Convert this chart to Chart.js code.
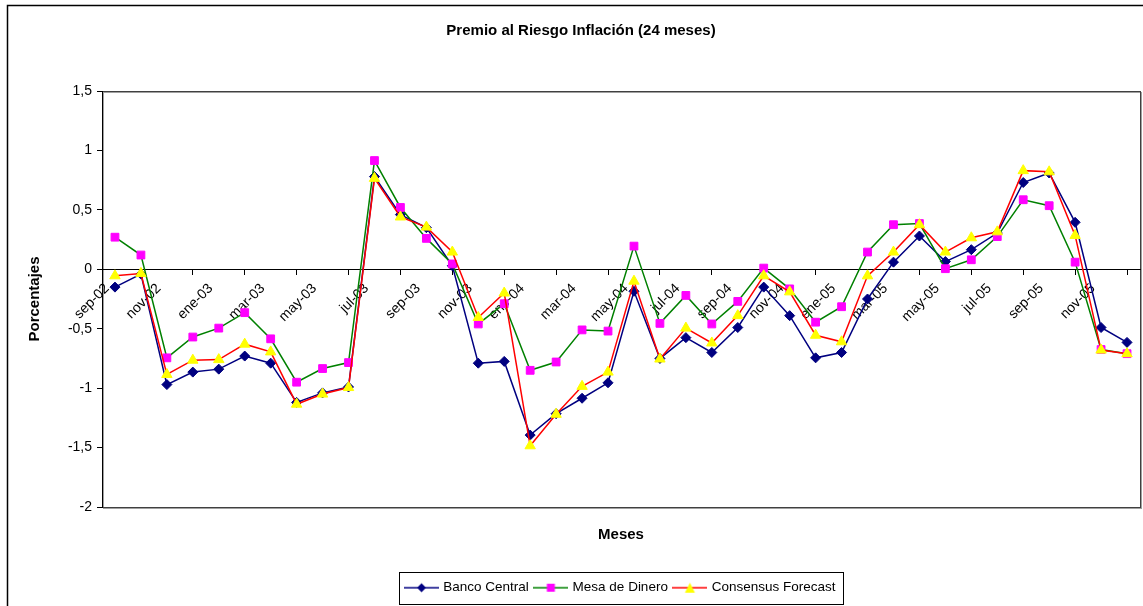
<!DOCTYPE html>
<html lang="es">
<head>
  <meta charset="UTF-8">
  <title>Premio al Riesgo Inflación (24 meses)</title>
  <script src="https://cdn.jsdelivr.net/npm/chart.js"></script>
  <style>
    html, body { margin: 0; padding: 0; background: #fff; }
    #premioChart { display: block; }
  </style>
</head>
<body>
  <canvas id="premioChart" width="1143" height="606"></canvas>

  <script>
    // meses (sep-02 a dic-05), se rotula uno de cada dos
    const meses = [
      'sep-02', 'oct-02', 'nov-02', 'dic-02',
      'ene-03', 'feb-03', 'mar-03', 'abr-03', 'may-03', 'jun-03',
      'jul-03', 'ago-03', 'sep-03', 'oct-03', 'nov-03', 'dic-03',
      'ene-04', 'feb-04', 'mar-04', 'abr-04', 'may-04', 'jun-04',
      'jul-04', 'ago-04', 'sep-04', 'oct-04', 'nov-04', 'dic-04',
      'ene-05', 'feb-05', 'mar-05', 'abr-05', 'may-05', 'jun-05',
      'jul-05', 'ago-05', 'sep-05', 'oct-05', 'nov-05', 'dic-05'
    ];

    const bancoCentral = [
      -0.15, -0.04, -0.97, -0.865, -0.84, -0.73, -0.79, -1.12, -1.04, -0.99,
      0.78, 0.46, 0.35, 0.03, -0.79, -0.775, -1.395, -1.215, -1.085, -0.955,
      -0.185, -0.75, -0.575, -0.70, -0.49, -0.15, -0.39, -0.745, -0.70, -0.25,
      0.06, 0.28, 0.065, 0.165, 0.305, 0.73, 0.81, 0.395, -0.49, -0.615
    ];

    const mesaDeDinero = [
      0.27, 0.12, -0.745, -0.57, -0.495, -0.365, -0.585, -0.95, -0.835, -0.785,
      0.915, 0.52, 0.26, 0.045, -0.46, -0.29, -0.85, -0.78, -0.51, -0.52,
      0.195, -0.455, -0.22, -0.46, -0.27, 0.01, -0.165, -0.445, -0.315, 0.145,
      0.375, 0.385, 0.005, 0.08, 0.275, 0.585, 0.535, 0.06, -0.675, -0.71
    ];

    const consensusForecast = [
      -0.055, -0.035, -0.885, -0.765, -0.76, -0.63, -0.695, -1.135, -1.05, -0.995,
      0.765, 0.44, 0.355, 0.145, -0.405, -0.2, -1.485, -1.22, -0.985, -0.865,
      -0.1, -0.755, -0.495, -0.62, -0.39, -0.055, -0.19, -0.555, -0.61, -0.055,
      0.145, 0.375, 0.145, 0.265, 0.315, 0.83, 0.82, 0.285, -0.68, -0.71
    ];

    const yTicks = [-2, -1.5, -1, -0.5, 0, 0.5, 1, 1.5];

    const fuente = "'Liberation Sans', Arial, sans-serif";
    Chart.defaults.font.family = fuente;
    Chart.defaults.color = '#000';

    // icono de leyenda: linea con marcador al medio
    function iconoLeyenda(colorLinea, colorMarca, forma) {
      const c = document.createElement('canvas');
      c.width = 35; c.height = 14;
      const g = c.getContext('2d');
      g.strokeStyle = colorLinea;
      g.lineWidth = 1.5;
      g.beginPath(); g.moveTo(0, 7); g.lineTo(35, 7); g.stroke();
      g.fillStyle = colorMarca;
      g.beginPath();
      if (forma === 'diamante') {
        g.moveTo(17.5, 2.5); g.lineTo(22, 7); g.lineTo(17.5, 11.5); g.lineTo(13, 7);
      } else if (forma === 'cuadrado') {
        g.rect(13.5, 3, 8, 8);
      } else {
        g.moveTo(17.5, 2); g.lineTo(22.5, 12); g.lineTo(12.5, 12);
      }
      g.closePath(); g.fill();
      return c;
    }

    const iconos = [
      iconoLeyenda('#000080', '#000080', 'diamante'),
      iconoLeyenda('#008000', '#FF00FF', 'cuadrado'),
      iconoLeyenda('#FF0000', '#FFFF00', 'triangulo')
    ];

    // marco exterior, borde del area de trazado y caja de la leyenda
    const marcos = {
      id: 'marcos',
      beforeDraw(chart) {
        const ctx = chart.ctx;
        const a = chart.chartArea;
        ctx.save();
        ctx.fillStyle = '#fff';
        ctx.fillRect(0, 0, chart.width, chart.height);
        ctx.strokeStyle = '#000';
        ctx.lineWidth = 1.5;
        ctx.strokeRect(7.5, 5.5, chart.width + 20, chart.height + 20);
        ctx.lineWidth = 1;
        ctx.strokeStyle = '#a0a0a0';
        ctx.strokeRect(Math.round(a.left) + 1.5, Math.round(a.top) + 1.5, Math.round(a.width), Math.round(a.height));
        ctx.strokeStyle = '#404040';
        ctx.strokeRect(Math.round(a.left) + 0.5, Math.round(a.top) + 0.5, Math.round(a.width), Math.round(a.height));
        ctx.restore();
      },
      afterDraw(chart) {
        const cajas = chart.legend.legendHitBoxes;
        if (!cajas || !cajas.length) return;
        const ctx = chart.ctx;
        const l = Math.min(...cajas.map(b => b.left)) - 8;
        const r = Math.max(...cajas.map(b => b.left + b.width)) + 7;
        const cy = cajas[0].top + cajas[0].height / 2;
        ctx.save();
        ctx.strokeStyle = '#000';
        ctx.lineWidth = 1;
        ctx.strokeRect(Math.round(l) + 0.5, Math.round(cy - 16) + 0.5, Math.round(r - l), 32);
        ctx.restore();
      }
    };

    const ctx = document.getElementById('premioChart').getContext('2d');
    new Chart(ctx, {
      type: 'line',
      data: {
        labels: meses,
        datasets: [
          {
            label: 'Banco Central',
            data: bancoCentral,
            borderColor: '#000080',
            backgroundColor: '#000080',
            borderWidth: 1.5,
            pointStyle: 'rectRot',
            pointRadius: 5,
            pointBorderWidth: 1,
            order: 3
          },
          {
            label: 'Mesa de Dinero',
            data: mesaDeDinero,
            borderColor: '#008000',
            backgroundColor: '#FF00FF',
            pointBorderColor: '#FF00FF',
            borderWidth: 1.5,
            pointStyle: 'rect',
            pointRadius: 5.5,
            pointBorderWidth: 1,
            order: 2
          },
          {
            label: 'Consensus Forecast',
            data: consensusForecast,
            borderColor: '#FF0000',
            backgroundColor: '#FFFF00',
            pointBorderColor: '#FFFF00',
            borderWidth: 1.5,
            pointStyle: 'triangle',
            pointRadius: 6,
            pointBorderWidth: 1,
            order: 1
          }
        ]
      },
      options: {
        responsive: false,
        animation: false,
        devicePixelRatio: 1,
        layout: { autoPadding: false, padding: { left: 22, right: 3, top: 0, bottom: 1.5 } },
        elements: { line: { tension: 0, fill: false } },
        scales: {
          x: {
            type: 'category',
            position: { y: 0 },
            offset: true,
            grid: { display: true, drawOnChartArea: false, drawTicks: true, tickLength: 5, color: '#000', offset: true },
            border: { display: true, color: '#000', width: 1 },
            ticks: {
              autoSkip: false,
              minRotation: 45,
              maxRotation: 45,
              padding: 6,
              labelOffset: -8,
              color: '#000',
              font: { size: 14 },
              callback: function (val, idx) {
                return idx % 2 === 0 ? this.getLabelForValue(val) : null;
              }
            }
          },
          y: {
            min: -2,
            max: 1.5,
            afterFit(scale) { scale.width = 80; },
            afterBuildTicks(scale) { scale.ticks = yTicks.map(v => ({ value: v })); },
            grid: { drawOnChartArea: false, drawTicks: true, tickLength: 5, color: '#000' },
            border: { display: true, color: '#000', width: 1 },
            ticks: {
              padding: 5,
              color: '#000',
              font: { size: 14 },
              callback: v => String(v).replace('.', ',')
            },
            title: {
              display: true,
              text: 'Porcentajes',
              color: '#000',
              font: { size: 15, weight: 'bold' },
              padding: { top: 4, bottom: 4 }
            }
          }
        },
        plugins: {
          title: {
            display: true,
            text: 'Premio al Riesgo Inflación (24 meses)',
            color: '#000',
            font: { size: 15, weight: 'bold' },
            padding: { top: 22, bottom: 51 }
          },
          subtitle: {
            display: true,
            text: 'Meses',
            position: 'bottom',
            fullSize: false,
            color: '#000',
            font: { size: 15, weight: 'bold' },
            padding: { top: 19, bottom: 30 }
          },
          legend: {
            position: 'bottom',
            fullSize: false,
            weight: 3000,
            labels: {
              color: '#000',
              font: { size: 13.5 },
              padding: 7,
              usePointStyle: true,
              pointStyleWidth: 30,
              sort: (a, b) => a.datasetIndex - b.datasetIndex,
              generateLabels(chart) {
                const items = Chart.defaults.plugins.legend.labels.generateLabels(chart);
                items.forEach(it => { it.pointStyle = iconos[it.datasetIndex]; it.lineWidth = 0; });
                return items;
              }
            }
          },
          tooltip: { enabled: false }
        }
      },
      plugins: [marcos]
    });
  </script>
</body>
</html>
